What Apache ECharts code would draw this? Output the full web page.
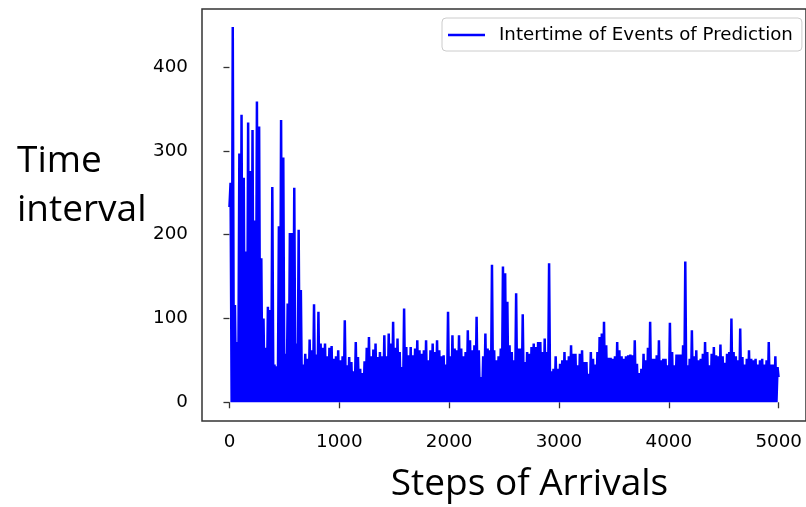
<!DOCTYPE html>
<html>
<head>
<meta charset="utf-8">
<script src="https://cdn.jsdelivr.net/npm/echarts@6/dist/echarts.min.js"></script>
<style>
html,body{margin:0;padding:0;background:#fff;}
#chart{width:806px;height:507px;}
</style>
</head>
<body>
<div id="chart"></div>
<script>
// ---- data ----
// Each bucket covers 20 arrival steps; the value is the highest interval in that bucket.
const bucketSize = 20;
const bucketPeaks = [
  262,448,116,72,297,343,268,180,334,276,
  325,217,359,329,172,100,65,114,110,257,
  45,43,210,337,292,58,118,202,202,256,
  70,206,134,45,58,52,75,62,117,57,
  108,70,65,70,55,65,67,52,55,62,
  50,55,98,44,54,48,37,72,54,40,
  35,49,65,78,55,63,70,54,60,55,
  80,55,82,70,96,65,76,60,42,112,
  66,56,66,56,64,74,62,58,62,74,
  50,62,70,60,74,62,55,56,45,108,
  55,80,64,62,80,64,55,60,86,74,
  62,68,102,62,30,55,82,64,62,164,
  62,50,55,64,162,154,120,68,60,50,
  130,64,64,105,48,60,58,66,70,66,
  72,72,60,76,60,166,37,40,55,40,
  46,50,60,50,55,68,58,58,44,58,
  62,48,48,34,60,52,45,60,78,82,
  96,68,53,53,52,55,72,62,55,52,
  55,56,57,56,74,46,35,40,58,50,
  65,96,52,52,56,74,50,52,52,44,
  95,60,44,57,57,57,68,168,44,52,
  86,55,62,50,52,58,72,60,44,58,
  66,56,55,69,55,47,58,60,100,60,
  55,50,88,54,45,52,62,52,50,52,
  45,50,52,45,50,72,45,45,55,42
];
const bucketLow = 0;      // intervals drop to ~0 inside every bucket
const firstStep = 0, firstValue = 233;
const lastStep = 4999, lastValue = 30;

const xTicks = [0, 1000, 2000, 3000, 4000, 5000];
const yTicks = [0, 100, 200, 300, 400];
const seriesName = 'Intertime of Events of Prediction';
const xTitle = 'Steps of Arrivals';
const yTitleLines = ['Time', 'interval'];

// ---- build series ----
const seriesData = [[firstStep, firstValue]];
bucketPeaks.forEach((v, i) => {
  seriesData.push([i * bucketSize + bucketSize / 2, v]);
  if (i < bucketPeaks.length - 1) seriesData.push([(i + 1) * bucketSize, bucketLow]);
});
seriesData.push([lastStep, lastValue]);

const chart = echarts.init(document.getElementById('chart'), null, {renderer: 'canvas'});
const tickFont = 'DejaVu Sans';
chart.setOption({
  animation: false,
  backgroundColor: '#ffffff',
  grid: {left: 202, top: 9, width: 609, height: 412, show: true, borderColor: '#333333', borderWidth: 1.5, backgroundColor: 'transparent'},
  xAxis: {
    type: 'value', min: -250, max: 5249,
    axisLine: {show: false},
    splitLine: {show: false},
    axisTick: {show: true, inside: false, length: 6, lineStyle: {color: '#333333', width: 1.3}, customValues: xTicks},
    axisLabel: {margin: 12, fontFamily: tickFont, fontSize: 18.3, color: '#000000', customValues: xTicks, formatter: v => String(v)}
  },
  yAxis: {
    type: 'value', min: -22.35, max: 469.35,
    axisLine: {show: false},
    splitLine: {show: false},
    axisTick: {show: true, inside: false, length: 6, lineStyle: {color: '#333333', width: 1.3}, customValues: yTicks},
    axisLabel: {margin: 14, fontFamily: tickFont, fontSize: 18.3, color: '#000000', customValues: yTicks, formatter: v => String(v)}
  },
  legend: {
    left: 442, top: 18,
    padding: [8, 9, 7, 6],
    backgroundColor: '#ffffff',
    borderColor: '#cccccc', borderWidth: 1, borderRadius: 4,
    itemWidth: 37, itemHeight: 2.5,
    textStyle: {fontFamily: tickFont, fontSize: 18.2, color: '#000000', padding: [0, 0, 0, 9]},
    data: [{name: seriesName, icon: 'rect'}]
  },
  graphic: [
    {type: 'text', left: 17, top: 143, style: {text: yTitleLines[0], font: '37px "Open Sans"', fill: '#000000'}},
    {type: 'text', left: 17, top: 192, style: {text: yTitleLines[1], font: '37px "Open Sans"', fill: '#000000'}},
    {type: 'text', x: 529.5, y: 466, style: {text: xTitle, font: '37px "Open Sans"', fill: '#000000', align: 'center', verticalAlign: 'top'}}
  ],
  series: [{
    name: seriesName,
    type: 'line',
    data: seriesData,
    showSymbol: false,
    symbol: 'none',
    color: '#0000ff',
    lineStyle: {color: '#0000ff', width: 2.5, join: 'bevel'},
    emphasis: {disabled: true}
  }]
});
</script>
</body>
</html>
